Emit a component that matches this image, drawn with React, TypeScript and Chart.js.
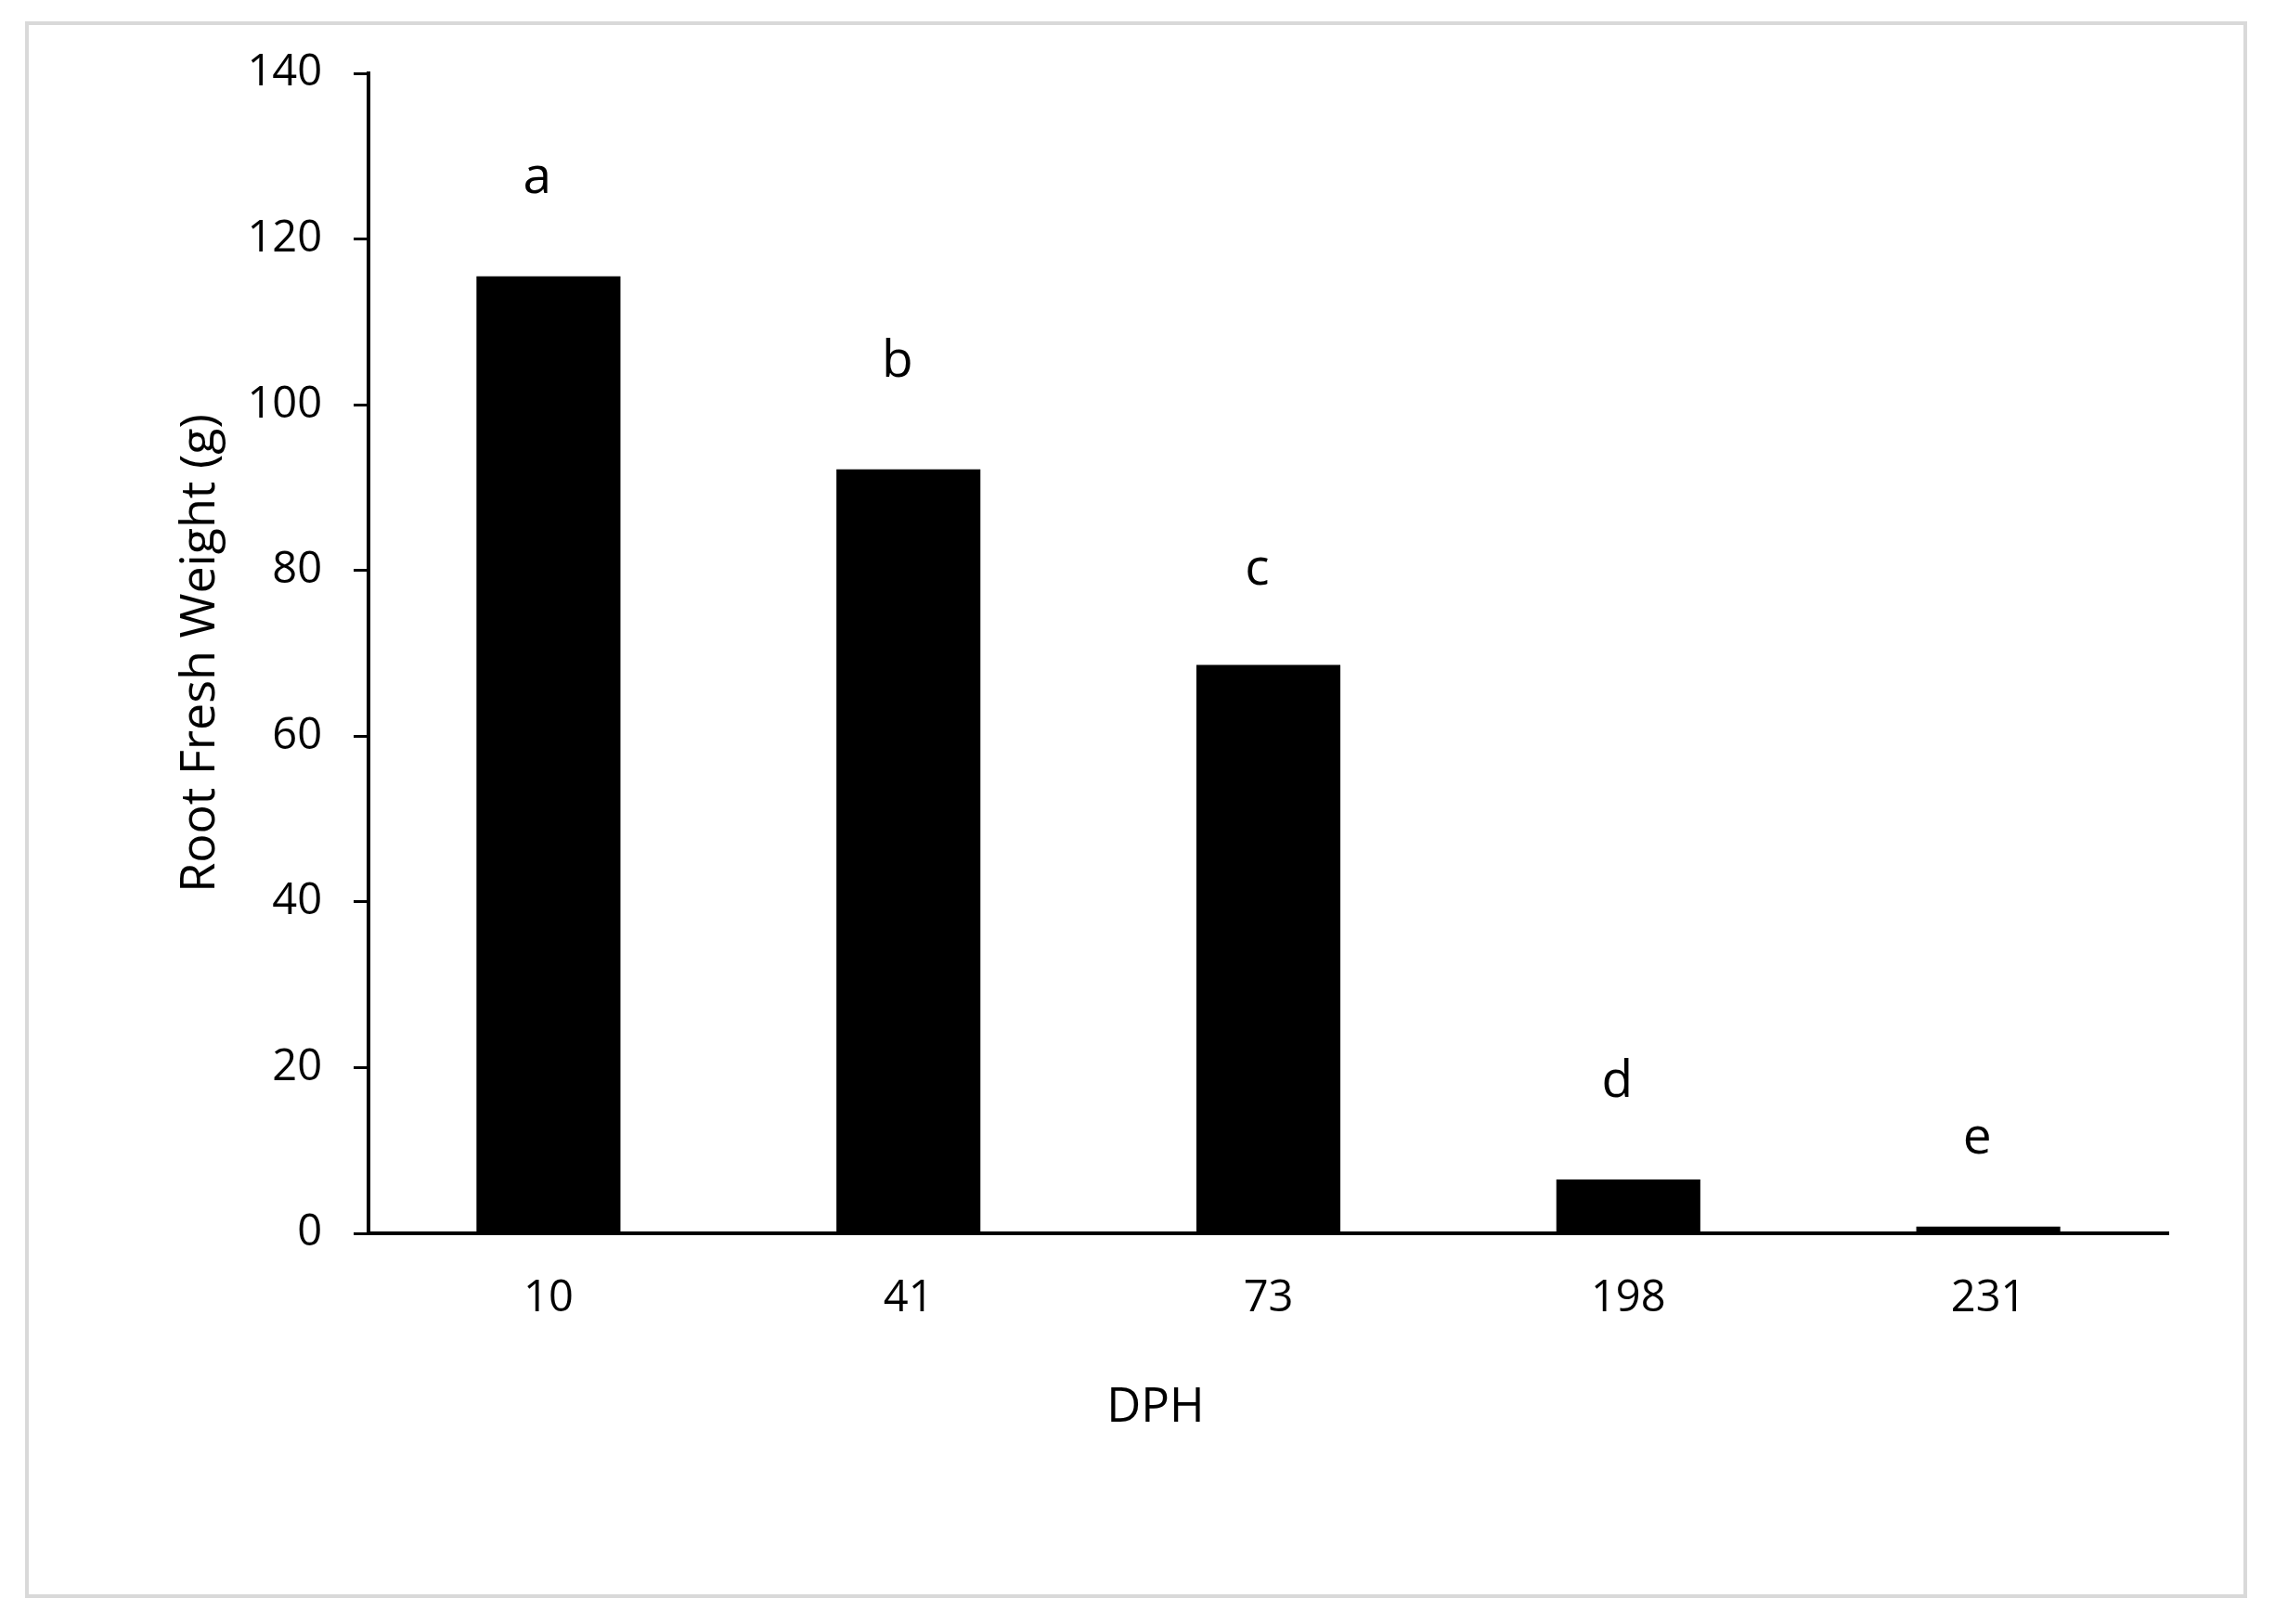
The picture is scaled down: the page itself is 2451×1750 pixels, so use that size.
import React, { useEffect, useRef } from 'react';
import { Chart, registerables } from 'chart.js';

Chart.register(...registerables);

const FONT = "'Open Sans', Lato, sans-serif";

const categories = ['10', '41', '73', '198', '231'];
const rootFreshWeight = [115.5, 92.2, 68.6, 6.5, 0.8];
const letters = ['a', 'b', 'c', 'd', 'e'];
const letterY = [125.5, 103.4, 78.3, 16.5, 9.6];
const yMin = 0;
const yMax = 140;
const yStep = 20;
const xTitle = 'DPH';
const yTitle = 'Root Fresh Weight (g)';

export default function App() {
  const ref = useRef<HTMLCanvasElement>(null);

  useEffect(() => {
    const canvas = ref.current;
    if (!canvas) return;

    const annotate = {
      id: 'annotate',
      afterDatasetsDraw(chart: any) {
        const { ctx, scales, chartArea } = chart;
        const meta = chart.getDatasetMeta(0);
        ctx.save();
        ctx.fillStyle = '#000';
        ctx.textAlign = 'center';
        ctx.font = `55px ${FONT}`;
        ctx.textBaseline = 'alphabetic';
        meta.data.forEach((bar: any, i: number) => {
          ctx.fillText(letters[i], bar.x - 12, scales.y.getPixelForValue(letterY[i]));
        });
        ctx.font = `51px ${FONT}`;
        ctx.textBaseline = 'middle';
        const xt = chartArea.left + 0.4373 * (chartArea.right - chartArea.left);
        ctx.fillText(xTitle, xt, 1517);
        ctx.restore();
      },
    };

    const chart = new Chart(canvas, {
      type: 'bar',
      data: {
        labels: categories,
        datasets: [
          {
            data: rootFreshWeight,
            backgroundColor: '#000',
            borderWidth: 0,
            barPercentage: 0.4,
            categoryPercentage: 1.0,
          },
        ],
      },
      options: {
        animation: false,
        responsive: false,
        devicePixelRatio: 1,
        layout: { padding: { left: 0, right: 115, top: 79, bottom: 0 } },
        plugins: {
          legend: { display: false },
          tooltip: { enabled: false },
          title: { display: false },
        },
        scales: {
          x: {
            grid: { display: false, drawTicks: false },
            border: { display: true, color: '#000', width: 4 },
            ticks: {
              color: '#000',
              font: { family: FONT, size: 47 },
              padding: 42,
              maxRotation: 0,
            },
            afterFit(scale: any) {
              scale.height = 421;
            },
          },
          y: {
            min: yMin,
            max: yMax,
            grid: {
              display: true,
              drawOnChartArea: false,
              drawTicks: true,
              tickLength: 16,
              color: '#000',
              lineWidth: 3,
            },
            border: { display: true, color: '#000', width: 4 },
            ticks: {
              stepSize: yStep,
              color: '#000',
              font: { family: FONT, size: 47 },
              padding: 34,
            },
            title: {
              display: true,
              text: yTitle,
              color: '#000',
              font: { family: FONT, size: 52, weight: 'normal' },
              padding: { top: 185, bottom: 0 },
            },
            afterFit(scale: any) {
              scale.width = 397;
            },
          },
        },
      },
      plugins: [annotate],
    });

    return () => {
      chart.destroy();
    };
  }, []);

  return (
    <div style={{ position: 'absolute', left: 0, top: 0, width: 2451, height: 1750, background: '#fff' }}>
      <div
        style={{
          position: 'absolute',
          left: 27,
          top: 23,
          width: 2394,
          height: 1699,
          border: '4px solid #d9d9d9',
          boxSizing: 'border-box',
        }}
      />
      <canvas
        ref={ref}
        width={2451}
        height={1750}
        style={{ position: 'absolute', left: 0, top: 0, display: 'block' }}
      />
    </div>
  );
}
